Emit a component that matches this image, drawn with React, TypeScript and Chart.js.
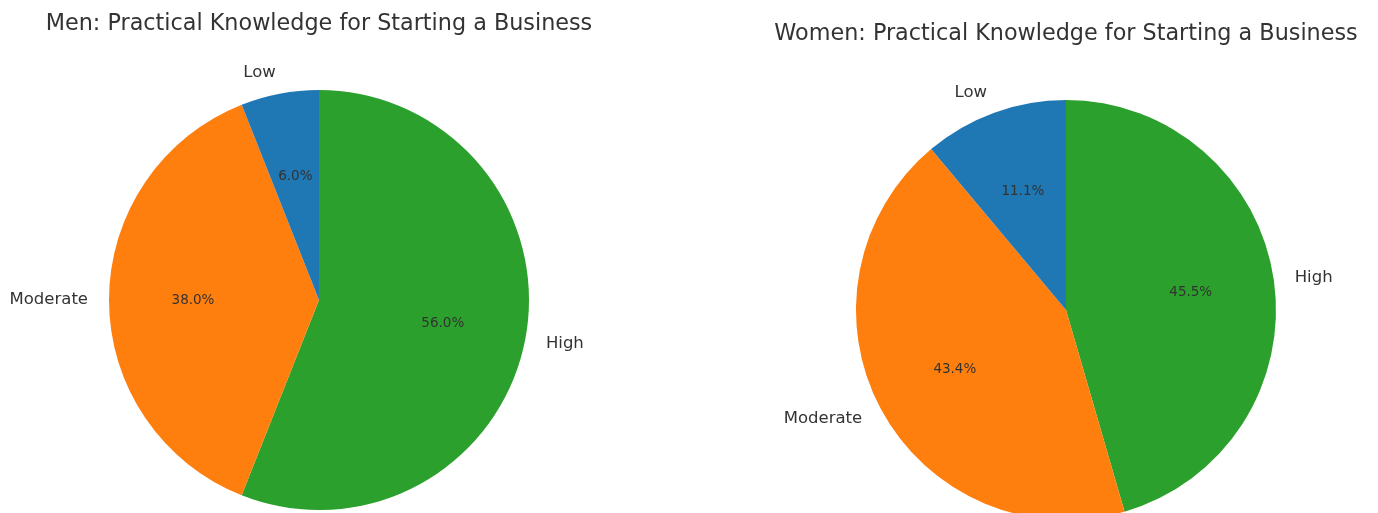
import React, { useEffect, useRef } from "react";
import { Chart, registerables } from "chart.js";

Chart.register(...registerables);

const categories = ["Low", "Moderate", "High"];
const menValues = [6.0, 38.0, 56.0];
const womenValues = [11.1, 43.4, 45.5];
const colors = ["#1f77b4", "#ff7f0e", "#2ca02c"];
const menTitle = "Men: Practical Knowledge for Starting a Business";
const womenTitle = "Women: Practical Knowledge for Starting a Business";

const FONT = "'DejaVu Sans', 'Liberation Sans', sans-serif";
const TEXT = "#333333";

function makeLabelPlugin(title: string, titleY: number) {
  return {
    id: "mplLabels",
    afterDraw(chart: any) {
      const ctx = chart.ctx;
      const meta = chart.getDatasetMeta(0);
      const labels: string[] = chart.data.labels;
      const data: number[] = chart.data.datasets[0].data;
      const total = data.reduce((a, b) => a + b, 0);
      ctx.save();
      ctx.fillStyle = TEXT;
      const first = meta.data[0];
      const cx = first ? first.x : (chart.chartArea.left + chart.chartArea.right) / 2;
      ctx.font = `22.3px ${FONT}`;
      ctx.textAlign = "center";
      ctx.textBaseline = "alphabetic";
      ctx.fillText(title, cx, titleY);
      meta.data.forEach((arc: any, i: number) => {
        const p = arc.getProps(["x", "y", "startAngle", "endAngle", "outerRadius"], true);
        const mid = (p.startAngle + p.endAngle) / 2;
        const c = Math.cos(mid);
        const s = Math.sin(mid);
        const lx = p.x + c * p.outerRadius * 1.1;
        const ly = p.y + s * p.outerRadius * 1.1;
        ctx.font = `16.5px ${FONT}`;
        ctx.textAlign = c > 0 ? "left" : "right";
        ctx.textBaseline = "middle";
        ctx.fillText(labels[i], lx, ly);
        const px = p.x + c * p.outerRadius * 0.6;
        const py = p.y + s * p.outerRadius * 0.6;
        ctx.font = `13.5px ${FONT}`;
        ctx.textAlign = "center";
        ctx.fillText(((data[i] / total) * 100).toFixed(1) + "%", px, py);
      });
      ctx.restore();
    },
  };
}

function PieCanvas(props: {
  values: number[];
  title: string;
  left: number;
  width: number;
  height: number;
  padding: { left: number; right: number; top: number; bottom: number };
  titleY: number;
}) {
  const ref = useRef<HTMLCanvasElement | null>(null);
  useEffect(() => {
    if (!ref.current) return;
    // matplotlib draws counter-clockwise from the top; Chart.js clockwise, so reverse
    const labels = [...categories].reverse();
    const vals = [...props.values].reverse();
    const cols = [...colors].reverse();
    const chart = new Chart(ref.current, {
      type: "pie",
      data: {
        labels,
        datasets: [
          {
            data: vals,
            backgroundColor: cols,
            borderWidth: 0,
            radius: 210,
          } as any,
        ],
      },
      options: {
        responsive: false,
        animation: false,
        layout: { padding: props.padding },
        plugins: {
          legend: { display: false },
          tooltip: { enabled: false },
          title: { display: false },
        },
      },
      plugins: [makeLabelPlugin(props.title, props.titleY)],
    });
    return () => chart.destroy();
  }, []);
  return (
    <canvas
      ref={ref}
      width={props.width}
      height={props.height}
      style={{ position: "absolute", left: props.left, top: 0, width: props.width, height: props.height }}
    />
  );
}

export default function App() {
  return (
    <div
      style={{
        position: "fixed",
        left: 0,
        top: 0,
        width: 1378,
        height: 513,
        overflow: "hidden",
        background: "#ffffff",
      }}
    >
      <PieCanvas
        values={menValues}
        title={menTitle}
        left={0}
        width={689}
        height={513}
        padding={{ left: 100, right: 151, top: 90, bottom: 3 }}
        titleY={30}
      />
      <PieCanvas
        values={womenValues}
        title={womenTitle}
        left={689}
        width={689}
        height={540}
        padding={{ left: 167, right: 102, top: 100, bottom: 20 }}
        titleY={40}
      />
    </div>
  );
}
